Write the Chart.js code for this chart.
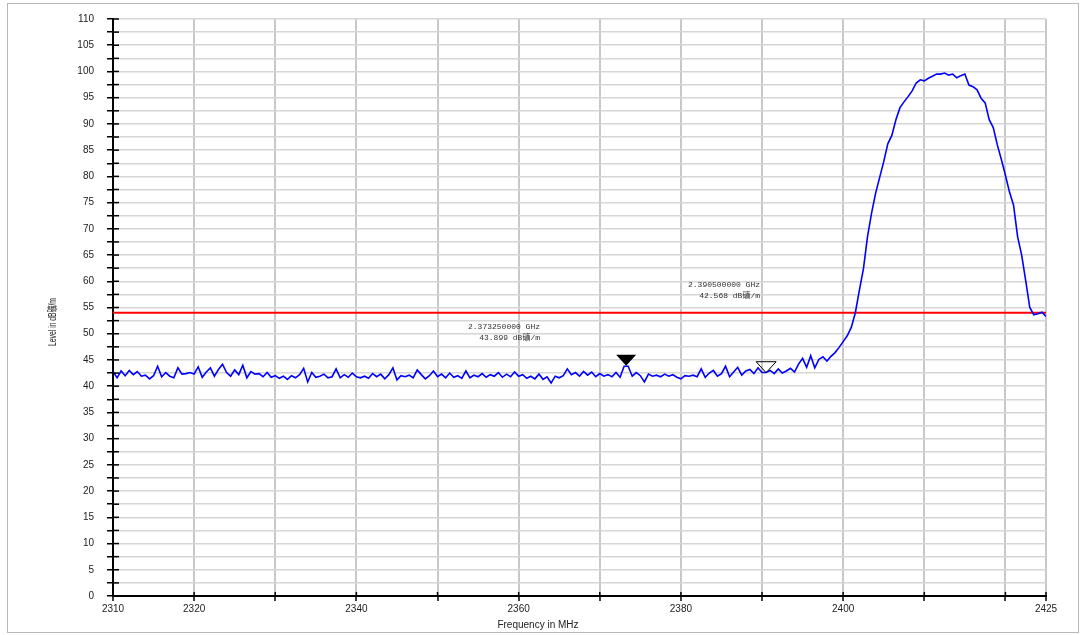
<!DOCTYPE html>
<html>
<head>
<meta charset="utf-8">
<script src="https://cdn.jsdelivr.net/npm/chart.js@4.4.0/dist/chart.umd.min.js"></script>
<style>
html, body { margin: 0; padding: 0; background: #fff; }
</style>
</head>
<body>
<canvas id="chart" width="1083" height="635"></canvas>
<script>
// sweep: 2310 .. 2425 MHz, one point every 0.5 MHz
const sweepStart = 2310;
const sweepStep = 0.5;

// level in dBuV/m, 2310.0 .. 2400.0 MHz
const levelLow = [
	42.8, 41.6, 42.9, 42.0, 43.0, 42.2, 42.8, 41.9, 42.1, 41.4, 42.0, 43.8, 41.8, 42.6, 41.9, 41.6, 43.5, 42.3, 42.4, 42.6, 42.3,
	43.7, 41.7, 42.7, 43.5, 41.9, 43.2, 44.2, 42.6, 41.9, 43.1, 42.2, 44.0, 41.6, 42.8, 42.3, 42.4, 41.8, 42.6, 41.7, 42.0,
	41.5, 41.9, 41.3, 42.0, 41.6, 42.2, 43.4, 40.8, 42.6, 41.7, 41.9, 42.3, 41.6, 41.8, 43.3, 41.6, 42.2, 41.7, 42.5, 41.8,
	41.6, 41.9, 41.5, 42.4, 41.8, 42.3, 41.4, 42.2, 43.5, 41.2, 42.0, 41.8, 42.1, 41.6, 43.1, 42.2, 41.4, 42.0, 42.9, 41.8,
	42.3, 41.6, 42.5, 41.7, 42.0, 41.5, 42.9, 41.6, 42.1, 41.8, 42.4, 41.7, 42.2, 41.9, 42.6, 41.7, 42.3, 41.8, 42.7, 41.9,
	42.2, 41.5, 41.9, 41.4, 42.3, 41.3, 41.8, 40.6, 41.9, 41.6, 42.0, 43.3, 42.2, 42.6, 41.9, 42.8, 42.1, 42.7, 41.8, 42.4,
	41.9, 42.2, 41.8, 42.6, 41.7, 43.8, 43.8, 41.9, 42.6, 42.0, 40.8, 42.3, 41.9, 42.1, 41.8, 42.3, 41.9, 42.2, 41.7, 41.4,
	42.0, 41.9, 42.1, 41.8, 43.3, 41.7, 42.5, 43.0, 41.9, 42.4, 43.8, 41.8, 42.7, 43.6, 42.1, 42.9, 43.2, 42.4, 43.5, 42.6,
	42.6, 43.0, 42.4, 43.3, 42.5, 42.9, 43.4, 42.7, 44.2, 45.3, 43.6, 45.8, 43.5, 45.1, 45.6, 44.8, 45.7, 46.4, 47.4, 48.5,
];

// level in dBuV/m, 2400.5 .. 2425.0 MHz
const levelHigh = [
	49.6, 51.2, 54.0, 58.3, 62.4, 68.5, 73.0, 76.8, 79.8, 82.8,
	86.2, 87.8, 90.8, 93.1, 94.2, 95.2, 96.3, 97.8, 98.4, 98.2,
	98.7, 99.1, 99.5, 99.5, 99.7, 99.3, 99.5, 98.8, 99.2, 99.5,
	97.4, 97.1, 96.5, 94.9, 94.0, 90.8, 89.3, 86.0, 83.2, 80.2,
	77.0, 74.5, 68.5, 65.0, 60.1, 55.0, 53.6, 53.8, 54.1, 53.3,
];

const limitLevel = 54;

const markerFreq = [2373.25, 2390.5];
const markerLevel = [43.899, 42.568];
const markerFilled = [true, false];
const markerText = [
	['2.373250000 GHz', '43.899 dB礦/m'],
	['2.390500000 GHz', '42.568 dB礦/m'],
];

const xTickValues = [2310, 2320, 2330, 2340, 2350, 2360, 2370, 2380, 2390, 2400, 2410, 2420, 2425];
const xTickLabels = [2310, 2320, 2340, 2360, 2380, 2400, 2425];

const yTitle = 'Level in dB礦/m';
const xTitle = 'Frequency in MHz';

const levels = levelLow.concat(levelHigh);
const sweepData = levels.map((v, i) => ({ x: sweepStart + i * sweepStep, y: v }));

const extras = {
	id: 'extras',
	beforeDraw(chart) {
		const { ctx } = chart;
		ctx.save();
		ctx.fillStyle = '#fff';
		ctx.fillRect(0, 0, chart.width, chart.height);
		ctx.strokeStyle = '#b8b8b8';
		ctx.lineWidth = 1;
		ctx.strokeRect(7.5, 3.5, 1071, 629);
		ctx.restore();
	},
	afterDraw(chart) {
		const { ctx, chartArea } = chart;
		const xs = chart.scales.x;
		const ys = chart.scales.y;
		ctx.save();

		// tick marks on the inner side of the axes
		ctx.strokeStyle = '#000';
		ctx.lineWidth = 1.5;
		ys.ticks.forEach((t) => {
			const py = ys.getPixelForValue(t.value);
			ctx.beginPath();
			ctx.moveTo(chartArea.left, py);
			ctx.lineTo(chartArea.left + 6, py);
			ctx.stroke();
		});
		xs.ticks.forEach((t) => {
			const px = xs.getPixelForValue(t.value);
			ctx.beginPath();
			ctx.moveTo(px, chartArea.bottom);
			ctx.lineTo(px, chartArea.bottom - 4);
			ctx.stroke();
		});

		// markers, tip on the value
		markerFreq.forEach((f, i) => {
			const px = xs.getPixelForValue(f);
			const py = ys.getPixelForValue(markerLevel[i]);
			ctx.beginPath();
			ctx.moveTo(px, py);
			ctx.lineTo(px - 10, py - 11);
			ctx.lineTo(px + 10, py - 11);
			ctx.closePath();
			if (markerFilled[i]) {
				ctx.fillStyle = '#000';
				ctx.fill();
			} else {
				ctx.strokeStyle = '#000';
				ctx.lineWidth = 1;
				ctx.stroke();
			}
		});

		// marker readouts
		ctx.fillStyle = '#333';
		ctx.font = "8px 'Liberation Mono', 'Noto Sans CJK SC'";
		ctx.textAlign = 'right';
		ctx.textBaseline = 'middle';
		const textPos = [[540, 327], [760, 285]];
		markerText.forEach((lines, i) => {
			lines.forEach((s, j) => ctx.fillText(s, textPos[i][0], textPos[i][1] + j * 11));
		});

		// axis titles
		ctx.fillStyle = '#222';
		ctx.textAlign = 'center';
		ctx.font = "10px 'Liberation Sans', Arial";
		ctx.fillText(xTitle, 538, 625);
		ctx.translate(53, 322);
		ctx.rotate(-Math.PI / 2);
		ctx.scale(0.68, 1);
		ctx.font = "10px 'Liberation Sans', 'Noto Sans CJK SC'";
		ctx.fillText(yTitle, 0, 0);
		ctx.restore();
	},
};

new Chart(document.getElementById('chart'), {
	type: 'line',
	data: {
		datasets: [
			{
				data: sweepData,
				borderColor: '#0000ff',
				borderWidth: 1.6,
				pointRadius: 0,
				tension: 0,
			},
			{
				data: [{ x: 2310, y: limitLevel }, { x: 2425, y: limitLevel }],
				borderColor: '#ff0000',
				borderWidth: 2,
				pointRadius: 0,
			},
		],
	},
	options: {
		responsive: false,
		animation: false,
		layout: { padding: { left: 0, right: 37, top: 18, bottom: 0 } },
		plugins: { legend: { display: false }, tooltip: { enabled: false } },
		scales: {
			x: {
				type: 'linear',
				min: 2310,
				max: 2425,
				afterBuildTicks: (s) => {
					s.ticks = xTickValues.map((v) => ({ value: v }));
				},
				afterFit: (s) => {
					s.height = 39;
				},
				ticks: {
					autoSkip: false,
					maxRotation: 0,
					padding: 2,
					color: '#222',
					font: { size: 10, family: "'Liberation Sans', Arial" },
					callback: (v) => (xTickLabels.includes(v) ? String(v) : ''),
				},
				grid: { color: '#c8c8c8', lineWidth: 2, tickColor: '#000', tickLength: 5, tickWidth: 1.5 },
				border: { color: '#000', width: 2 },
			},
			y: {
				min: 0,
				max: 110,
				afterFit: (s) => {
					s.width = 113;
				},
				ticks: {
					stepSize: 2.5,
					maxTicksLimit: 60,
					autoSkip: false,
					padding: 13,
					color: '#222',
					font: { size: 10, family: "'Liberation Sans', Arial" },
					callback: (v) => (v % 5 === 0 ? String(v) : ''),
				},
				grid: { color: '#d6d6d6', lineWidth: 1.5, tickColor: '#000', tickLength: 6, tickWidth: 1.5 },
				border: { color: '#000', width: 2 },
			},
		},
	},
	plugins: [extras],
});
</script>
</body>
</html>
